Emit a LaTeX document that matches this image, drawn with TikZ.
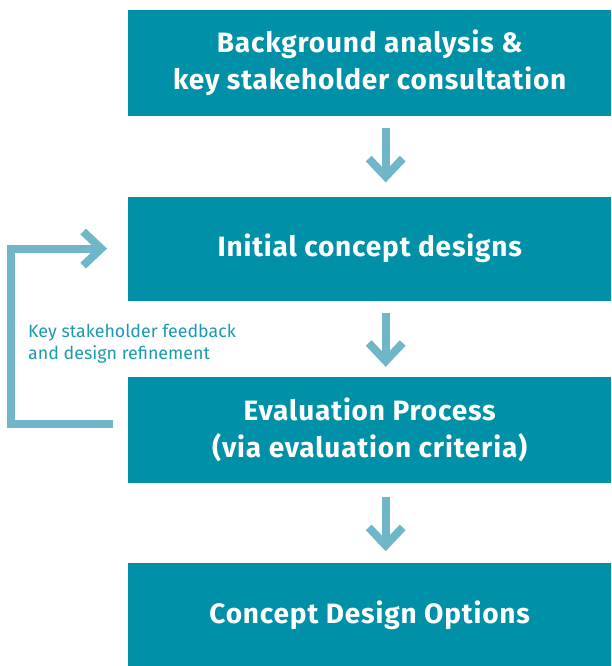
\documentclass[tikz,border=0pt]{standalone}
\usepackage{fontspec}
\setmainfont{Fira Sans}
\usetikzlibrary{arrows.meta,positioning}
\definecolor{boxteal}{RGB}{0,144,168}
\definecolor{arrowblue}{RGB}{111,182,200}
\definecolor{labelteal}{RGB}{26,154,176}

\begin{document}
\begin{tikzpicture}[x=1pt,y=-1pt,
  stage/.style={fill=boxteal, text=white, minimum width=483pt, minimum height=106pt, inner sep=0pt, align=center,
    font=\fontsize{28}{37}\selectfont\bfseries\addfontfeatures{LetterSpace=3}},
  flow/.style={draw=arrowblue, line width=8pt, -{Straight Barb[length=18pt,width=34pt]}}]
\useasboundingbox (0,0) rectangle (611,666);

% The four stages of the design process, one below the other
\node[stage, anchor=north west] (bg) at (128,10) {Background analysis \&\\key stakeholder consultation};
\node[stage, minimum height=104pt, below=80pt of bg] (init) {Initial concept designs};
\node[stage, below=76pt of init] (eval) {Evaluation Process\\(via evaluation criteria)};
\node[stage, minimum height=104pt, below=80pt of eval] (opts) {Concept Design Options};

% Downward arrows between the stages
\draw[flow] ([xshift=16pt,yshift=-12pt]bg.south) -- ([xshift=16pt,yshift=14pt]init.north);
\draw[flow] ([xshift=16pt,yshift=-12pt]init.south) -- ([xshift=16pt,yshift=10pt]eval.north);
\draw[flow] ([xshift=16pt,yshift=-14pt]eval.south) -- ([xshift=16pt,yshift=12pt]opts.north);

% Feedback loop from the evaluation back to the concept designs
\draw[flow] ([xshift=-15pt,yshift=6pt]eval.west) -- ++(-102,0) |- ([xshift=-21pt]init.west);
\node[anchor=west, align=left, inner sep=0pt, text=labelteal, font=\fontsize{17.8}{22}\selectfont] (fb) at (28,344)
  {Key stakeholder feedback\\and design refinement};
\end{tikzpicture}
\end{document}
